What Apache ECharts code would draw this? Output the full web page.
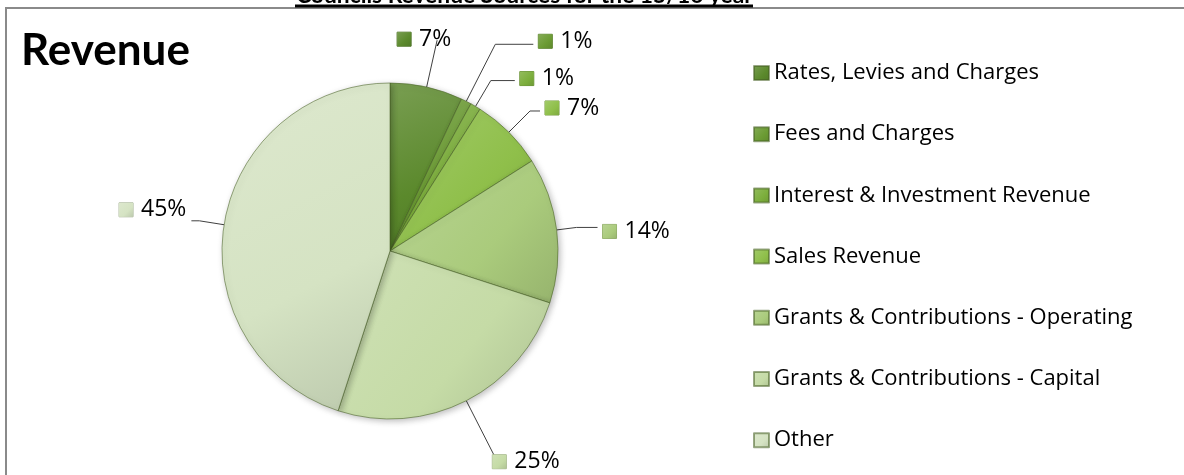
<!DOCTYPE html>
<html><head><meta charset="utf-8">
<script src="https://cdn.jsdelivr.net/npm/echarts@6/dist/echarts.min.js"></script>
<style>html,body{margin:0;padding:0;background:#fff}#c{width:1184px;height:475px}</style>
</head><body><div id="c"></div>
<script>
const pageTitle = 'Councils Revenue Sources for the 15/16 year';
const chartTitle = 'Revenue';
const categories = [
  'Rates, Levies and Charges',
  'Fees and Charges',
  'Interest & Investment Revenue',
  'Sales Revenue',
  'Grants & Contributions - Operating',
  'Grants & Contributions - Capital',
  'Other'
];
const shares = [7, 1, 1, 7, 14, 25, 45];
const colors = ['#5b892c', '#6b9b33', '#7cae3c', '#8fbf4a', '#aacb7c', '#c5dba6', '#d5e3c3'];
const lineLen = [48, 64, 30, 30, 20, 64, 25];
const lineLen2 = [0, 38, 24, 10, 21, 0, 8];
const labelShiftX = [-45, 0, 0, 0, 0, -8, 0];
const labelShiftY = [-1, -3, -2, -3, 4, 4, -11];

const FONT = '"Open Sans", Lato, sans-serif';
const TITLE_FONT = 'Lato, "Open Sans", sans-serif';

function lighten(hex, f) {
  const n = parseInt(hex.slice(1), 16);
  let r = (n >> 16) & 255, g = (n >> 8) & 255, b = n & 255;
  r = Math.round(r + (255 - r) * f); g = Math.round(g + (255 - g) * f); b = Math.round(b + (255 - b) * f);
  return 'rgb(' + r + ',' + g + ',' + b + ')';
}
function darken(hex, f) {
  const n = parseInt(hex.slice(1), 16);
  let r = (n >> 16) & 255, g = (n >> 8) & 255, b = n & 255;
  return 'rgb(' + Math.round(r * (1 - f)) + ',' + Math.round(g * (1 - f)) + ',' + Math.round(b * (1 - f)) + ')';
}
function grad(hex) {
  return new echarts.graphic.LinearGradient(0, 0, 1, 1, [
    { offset: 0, color: lighten(hex, 0.18) },
    { offset: 0.6, color: hex },
    { offset: 1, color: darken(hex, 0.12) }
  ]);
}

const rich = { t: { fontSize: 23, fontFamily: FONT, color: '#000', padding: [0, 0, 0, 8] } };
colors.forEach((c, i) => {
  rich['s' + i] = { width: 14, height: 14, backgroundColor: grad(c), borderColor: darken(c, 0.2), borderWidth: 0.5 };
});

const data = categories.map((name, i) => ({
  name: name,
  value: shares[i],
  itemStyle: { color: grad(colors[i]) },
  labelLine: { length: lineLen[i], length2: lineLen2[i] }
}));

const chart = echarts.init(document.getElementById('c'), null, { renderer: 'canvas' });
chart.setOption({
  backgroundColor: '#fff',
  animation: false,
  graphic: [
    { type: 'rect', z: 0, shape: { x: 6, y: 8, width: 1220, height: 520 }, style: { fill: 'none', stroke: '#8a8a8a', lineWidth: 2 } },
    { type: 'text', z: 1, x: 296, y: 7, style: { text: pageTitle, font: 'bold 22.8px ' + TITLE_FONT, fill: '#000', textVerticalAlign: 'bottom' } },
    { type: 'rect', z: 1, shape: { x: 295, y: 4.5, width: 458, height: 3 }, style: { fill: '#000' } }
  ],
  title: {
    text: chartTitle, left: 16, top: 24,
    textStyle: { fontSize: 44, fontWeight: 'bold', fontFamily: TITLE_FONT, color: '#000' }
  },
  legend: {
    orient: 'vertical', left: 748, top: 56,
    itemWidth: 15, itemHeight: 14, itemGap: 37.2,
    icon: 'rect',
    textStyle: { fontSize: 22, fontFamily: FONT, color: '#000', lineHeight: 24 },
    data: categories
  },
  series: [{
    type: 'pie',
    center: [390, 251],
    radius: 168,
    startAngle: 90,
    clockwise: true,
    avoidLabelOverlap: false,
    data: data,
    itemStyle: { borderColor: 'rgba(70,95,35,0.55)', borderWidth: 1, shadowColor: 'rgba(0,0,0,0.25)', shadowBlur: 6, shadowOffsetX: 2, shadowOffsetY: 2 },
    label: {
      show: true, position: 'outside',
      formatter: p => '{s' + p.dataIndex + '|}{t|' + Math.round(p.percent) + '%}',
      rich: rich
    },
    labelLine: { show: true, lineStyle: { color: '#404040', width: 1 } },
    labelLayout: p => ({ dx: labelShiftX[p.dataIndex], dy: labelShiftY[p.dataIndex] }),
    emphasis: { disabled: true }
  }]
});
</script>
</body></html>
